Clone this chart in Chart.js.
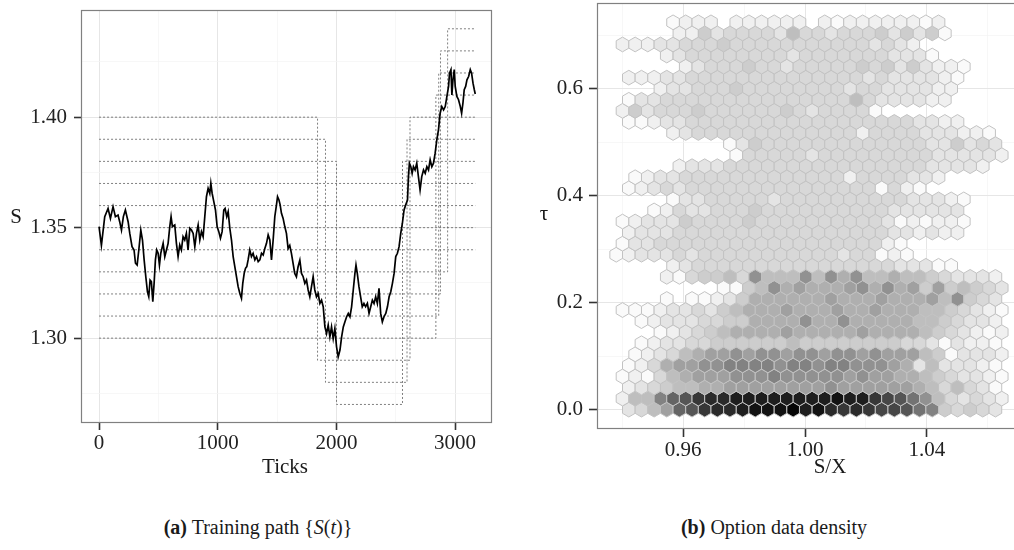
<!DOCTYPE html>
<html>
<head>
<meta charset="utf-8">
<script src="https://cdn.jsdelivr.net/npm/chart.js@4.4.1/dist/chart.umd.min.js"></script>
<style>
  html, body { margin: 0; padding: 0; background: #fff; }
  body { width: 1014px; height: 550px; overflow: hidden; position: relative;
         font-family: "Liberation Serif", "Times New Roman", serif; color: #1a1a1a; }
  canvas { position: absolute; top: 0; }
  #pathChart { left: 0; }
  #hexChart { left: 520px; }
  .lab { position: absolute; font-size: 21px; white-space: nowrap; transform: translate(-50%, -50%); }
  .cap { position: absolute; font-size: 20px; white-space: nowrap; transform: translate(-50%, -50%); }
</style>
</head>
<body>
<canvas id="pathChart" width="510" height="500"></canvas>
<canvas id="hexChart" width="520" height="500"></canvas>
<div class="lab" style="left:16px;top:216px">S</div>
<div class="lab" style="left:285px;top:466px">Ticks</div>
<div class="lab" style="left:544px;top:213px">τ</div>
<div class="lab" style="left:830px;top:466px">S/X</div>
<div class="cap" style="left:258px;top:527px"><b>(a)</b> Training path {<i>S</i>(<i>t</i>)}</div>
<div class="cap" style="left:774px;top:527px"><b>(b)</b> Option data density</div>
<script>
// ── panel (a): price path ──
const pathTicks = [
  0, 20, 48, 76, 96, 118, 138, 160, 174, 189, 205, 222, 245, 259, 278, 295, 307, 321, 335, 352,
  366, 380, 394, 408, 419, 430, 441, 453, 464, 475, 486, 498, 509, 520, 540, 554, 568, 582, 596, 607,
  618, 638, 652, 666, 680, 694, 708, 722, 736, 750, 765, 779, 793, 807, 821, 835, 849, 863, 877, 891,
  905, 919, 933, 942, 953, 967, 981, 995, 1009, 1023, 1037, 1051, 1062, 1076, 1088, 1102, 1116, 1130, 1144, 1158,
  1172, 1186, 1200, 1211, 1223, 1234, 1245, 1256, 1270, 1284, 1298, 1313, 1327, 1341, 1355, 1369, 1383, 1397, 1411, 1425,
  1439, 1453, 1467, 1481, 1495, 1504, 1516, 1526, 1537, 1551, 1565, 1579, 1593, 1607, 1621, 1635, 1649, 1663, 1677, 1692,
  1706, 1720, 1734, 1748, 1762, 1776, 1790, 1804, 1818, 1832, 1846, 1861, 1875, 1889, 1903, 1917, 1931, 1945, 1959, 1973,
  1987, 2001, 2015, 2030, 2044, 2058, 2072, 2086, 2100, 2114, 2128, 2142, 2156, 2165, 2176, 2190, 2204, 2218, 2232, 2246,
  2261, 2275, 2289, 2303, 2317, 2331, 2345, 2359, 2373, 2387, 2401, 2416, 2430, 2444, 2458, 2472, 2486, 2500, 2514, 2528,
  2542, 2556, 2570, 2584, 2599, 2607, 2615, 2627, 2638, 2649, 2663, 2677, 2691, 2705, 2719, 2734, 2748, 2762, 2776, 2790,
  2804, 2818, 2832, 2846, 2860, 2874, 2888, 2903, 2917, 2931, 2945, 2953, 2965, 2973, 2982, 2993, 3001, 3015, 3029, 3044,
  3055, 3066, 3077, 3089, 3100, 3114, 3128, 3139, 3151, 3162, 3170
];
const pathPrice = [
  1.3505, 1.3420, 1.3550, 1.3587, 1.3542, 1.3595, 1.3550, 1.3557, 1.3527, 1.3489, 1.3550, 1.3580, 1.3527, 1.3474, 1.3414, 1.3399, 1.3339, 1.3331, 1.3399, 1.3489,
  1.3444, 1.3354, 1.3278, 1.3210, 1.3188, 1.3263, 1.3256, 1.3165, 1.3248, 1.3354, 1.3399, 1.3384, 1.3331, 1.3384, 1.3429, 1.3369, 1.3399, 1.3429, 1.3505, 1.3550,
  1.3505, 1.3512, 1.3429, 1.3369, 1.3422, 1.3399, 1.3459, 1.3444, 1.3474, 1.3399, 1.3497, 1.3489, 1.3474, 1.3414, 1.3474, 1.3512, 1.3444, 1.3482, 1.3459, 1.3550,
  1.3640, 1.3678, 1.3655, 1.3701, 1.3655, 1.3618, 1.3580, 1.3505, 1.3482, 1.3452, 1.3482, 1.3580, 1.3587, 1.3550, 1.3572, 1.3497, 1.3444, 1.3369, 1.3324, 1.3278,
  1.3233, 1.3203, 1.3180, 1.3248, 1.3293, 1.3316, 1.3324, 1.3354, 1.3399, 1.3369, 1.3384, 1.3354, 1.3369, 1.3346, 1.3354, 1.3384, 1.3376, 1.3406, 1.3429, 1.3467,
  1.3444, 1.3354, 1.3444, 1.3550, 1.3603, 1.3640, 1.3625, 1.3603, 1.3565, 1.3542, 1.3505, 1.3474, 1.3406, 1.3420, 1.3384, 1.3338, 1.3293, 1.3278, 1.3323, 1.3353,
  1.3293, 1.3278, 1.3248, 1.3263, 1.3218, 1.3187, 1.3233, 1.3278, 1.3218, 1.3187, 1.3202, 1.3157, 1.3172, 1.3142, 1.3051, 1.3021, 1.3059, 1.3006, 1.3051, 1.2998,
  1.3044, 1.2961, 1.2915, 1.2946, 1.3006, 1.3051, 1.3074, 1.3097, 1.3112, 1.3097, 1.3142, 1.3218, 1.3293, 1.3331, 1.3293, 1.3233, 1.3187, 1.3142, 1.3157, 1.3142,
  1.3157, 1.3112, 1.3142, 1.3172, 1.3157, 1.3187, 1.3157, 1.3225, 1.3112, 1.3074, 1.3097, 1.3112, 1.3142, 1.3187, 1.3210, 1.3248, 1.3293, 1.3369, 1.3384, 1.3414,
  1.3474, 1.3520, 1.3580, 1.3603, 1.3625, 1.3731, 1.3792, 1.3776, 1.3746, 1.3776, 1.3761, 1.3792, 1.3731, 1.3671, 1.3731, 1.3761, 1.3746, 1.3776, 1.3761, 1.3807,
  1.3776, 1.3792, 1.3837, 1.3897, 1.3943, 1.4018, 1.4048, 1.4033, 1.4048, 1.4094, 1.4139, 1.4199, 1.4215, 1.4101, 1.4169, 1.4215, 1.4139, 1.4094, 1.4079, 1.4048,
  1.4018, 1.4063, 1.4124, 1.4139, 1.4169, 1.4184, 1.4215, 1.4199, 1.4154, 1.4124, 1.4105
];

// strike ladder: each dashed line holds a level, jumping at the switch ticks
const strikeLevels = [
  [1.30, 1.41], [1.31, 1.42], [1.32, 1.43], [1.33, 1.44],
  [1.34], [1.35], [1.36], [1.37],
  [1.38, 1.27, 1.38], [1.39, 1.28, 1.39], [1.40, 1.29, 1.40]
];
const strikeSwitch = [
  [2838], [2862], [2877], [2937],
  [], [], [], [],
  [2001, 2557], [1908, 2595], [1841, 2620]
];
const strikeEnd = 3170;

const pathXTicks = [0, 500, 1000, 1500, 2000, 2500, 3000];
const pathXLabels = [0, 1000, 2000, 3000];
const pathYTicks = [1.275, 1.30, 1.325, 1.35, 1.375, 1.40, 1.425];
const pathYLabels = [1.30, 1.35, 1.40];

// ── panel (b): hexbin counts, one string per row from the bottom (row 0 at tau = 0) ──
// [first column index, shade codes]; '.' = empty cell, spaces only for readability
const hexX0 = 0.938, hexDX = 0.00415, hexDY = 0.02069;
const hexRows = [
  [1, '2357b ceffg hhhig hfefe ddca9 43432'],
  [0, '1559b ceffg ggggg gghgg edca8 53232 1'],
  [1, '12345 56677 77777 78777 77765 35320'],
  [0, '01035 67778 88988 88878 77665 43221 0'],
  [1, '01367 78899 99899 89988 87625 22210'],
  [1, '01235 67787 88788 78878 77754 02221'],
  [2, '01223 34444 44544 44444 43320 2110'],
  [3, '01234 56666 76666 67666 65432 101'],
  [2, '01222 33446 66686 68666 66554 3221'],
  [0, '00012 23245 66676 66766 76665 543210'],
  [4, '0.001 24666 66676 66766 67584 32'],
  [8, '00458 67666 78686 74745 432'],
  [4, '10344 53855 58586 85565 54322 21'],
  [4, '12 33333 33333 33333 3 22200'],
  [0, '01222 32333 33333 33323 3010'],
  [0, '0223 33333 33333 33333 33 10'],
  [1, '1222 33333 33333 33333 33 221211'],
  [0, '01222 43333 43333 33333 32010 110'],
  [3, '01322 33343 33333 33332 22222'],
  [4, '022 33333 2 33333 33333 22210'],
  [1, '01232 33333 33333 33333 0310'],
  [1, '0122 33333 33333 333 1 3333 221'],
  [5, '1222 33333 33333 33333 3 22221'],
  [9, '03333 32333 33333 32222 21'],
  [9, '02433 33333 33333 32242 32'],
  [4, '12 33333 33333 333 1 3333 222 11 0'],
  [1, '00122 33333 33333 33333 333 2211'],
  [0, '14233 34333 33343 23333 0'],
  [1, '02233 33333 33333 33353 22221 1'],
  [3, '12233 34333 33333 23322 2211'],
  [1, '11122 33333 33333 3333 23222 21 0'],
  [5, '12333 43323 33334 34242 110'],
  [4, '12333 33333 23333 33322 20'],
  [0, '11122 33343 33333 33333 2321'],
  [5, '11423 33325 33233 34242 40'],
  [4, '0111. 11111 1.101 11111 01']
];
const shadeKeys = '0123456789abcdefghi';
const shadeGray = [250, 240, 228, 216, 205, 190, 175, 160, 145, 130, 115, 100, 85, 70, 55, 42, 30, 18, 5];

const hexXTicks = [0.94, 0.96, 0.98, 1.00, 1.02, 1.04, 1.06];
const hexXLabels = [0.96, 1.00, 1.04];
const hexYTicks = [0.0, 0.1, 0.2, 0.3, 0.4, 0.5, 0.6, 0.7];
const hexYLabels = [0.0, 0.2, 0.4, 0.6];

// ── shared bits ──
const FONT = { family: '"Liberation Serif", "Times New Roman", serif', size: 21 };
const near = (a, b) => Math.abs(a - b) < 1e-9;
const isIn = (list, v) => list.some(m => near(m, v));

function axis(opts) {
  const { min, max, ticks, labels, fmt, size, isX, pad, tickLen } = opts;
  return {
    type: 'linear', min, max,
    afterBuildTicks: s => { s.ticks = ticks.map(v => ({ value: v })); },
    afterFit: s => {
      if (isX) s.height = size; else s.width = size;
      // keep the plot panel exactly where the axis sizes put it
      s.paddingTop = s.paddingBottom = s.paddingLeft = s.paddingRight = 0;
    },
    border: { display: false },
    grid: {
      color: c => (c.tick && isIn(labels, c.tick.value)) ? '#e6e6e6' : '#f4f4f4',
      lineWidth: c => (c.tick && isIn(labels, c.tick.value)) ? 1 : 0.7,
      tickColor: c => (c.tick && isIn(labels, c.tick.value)) ? '#333333' : 'rgba(0,0,0,0)',
      tickLength: tickLen, tickWidth: 1.6
    },
    ticks: {
      autoSkip: false, maxRotation: 0, padding: pad, font: FONT, color: '#222',
      callback: v => isIn(labels, v) ? fmt(v) : ''
    }
  };
}

const panelBorder = {
  id: 'panelBorder',
  afterDraw(chart) {
    const { ctx, chartArea: a } = chart;
    ctx.save();
    ctx.strokeStyle = '#808080';
    ctx.lineWidth = 1.2;
    ctx.strokeRect(Math.round(a.left) + 0.5, Math.round(a.top) + 0.5,
                   Math.round(a.right - a.left) - 1, Math.round(a.bottom - a.top) - 1);
    ctx.restore();
  }
};

// ── panel (a) ──
const strikeSets = strikeLevels.map((lv, i) => {
  const pts = [{ x: 0, y: lv[0] }];
  strikeSwitch[i].forEach((t, j) => pts.push({ x: t, y: lv[j + 1] }));
  pts.push({ x: strikeEnd, y: lv[lv.length - 1] });
  return {
    data: pts, stepped: 'before', borderColor: '#5f5f5f', borderWidth: 0.8,
    borderDash: [2, 2], pointRadius: 0, fill: false, order: 2
  };
});

new Chart(document.getElementById('pathChart'), {
  type: 'line',
  data: {
    datasets: [
      {
        data: pathTicks.map((t, i) => ({ x: t, y: pathPrice[i] })),
        borderColor: '#000', borderWidth: 1.7, pointRadius: 0, tension: 0, fill: false, order: 1
      },
      ...strikeSets
    ]
  },
  options: {
    responsive: false, animation: false, devicePixelRatio: 1,
    layout: { padding: { left: 0, top: 10, right: 18, bottom: 37 } },
    plugins: { legend: { display: false }, tooltip: { enabled: false } },
    scales: {
      x: axis({ min: -152, max: 3311, ticks: pathXTicks, labels: pathXLabels, fmt: v => String(v),
                size: 40, isX: true, pad: 1, tickLen: 7 }),
      y: axis({ min: 1.2616, max: 1.4485, ticks: pathYTicks, labels: pathYLabels, fmt: v => v.toFixed(2),
                size: 81, isX: false, pad: 7, tickLen: 7 })
    }
  },
  plugins: [panelBorder]
});

// ── panel (b) ──
const hexPoints = [];
hexRows.forEach(([start, raw], r) => {
  const s = raw.replace(/ /g, '');
  for (let i = 0; i < s.length; i++) {
    if (s[i] === '.') continue;
    const k = start + i;
    hexPoints.push({
      x: hexX0 + hexDX * k + (r % 2 ? hexDX / 2 : 0),
      y: r * hexDY,
      shade: shadeKeys.indexOf(s[i])
    });
  }
});

const hexPlugin = {
  id: 'hexCells',
  beforeDatasetsDraw(chart) {
    const { ctx, chartArea: a, scales: { x, y } } = chart;
    const hx = hexDX / 2, hy = hexDY * 2 / 3;
    const verts = [[0, hy], [hx, hy / 2], [hx, -hy / 2], [0, -hy], [-hx, -hy / 2], [-hx, hy / 2]];
    ctx.save();
    ctx.beginPath();
    ctx.rect(a.left, a.top, a.right - a.left, a.bottom - a.top);
    ctx.clip();
    chart.data.datasets[0].data.forEach(p => {
      ctx.beginPath();
      verts.forEach(([dx, dy], i) => {
        const px = x.getPixelForValue(p.x + dx), py = y.getPixelForValue(p.y + dy);
        if (i) ctx.lineTo(px, py); else ctx.moveTo(px, py);
      });
      ctx.closePath();
      const g = shadeGray[p.shade];
      ctx.fillStyle = `rgb(${g},${g},${g})`;
      ctx.fill();
      ctx.strokeStyle = '#c2c2c2';
      ctx.lineWidth = 1;
      ctx.stroke();
    });
    ctx.restore();
  }
};

new Chart(document.getElementById('hexChart'), {
  type: 'scatter',
  data: { datasets: [{ data: hexPoints, pointRadius: 0, showLine: false }] },
  options: {
    responsive: false, animation: false, devicePixelRatio: 1,
    layout: { padding: { left: 0, top: 3, right: 19, bottom: 31 } },
    plugins: { legend: { display: false }, tooltip: { enabled: false } },
    scales: {
      x: axis({ min: 0.9317, max: 1.0709, ticks: hexXTicks, labels: hexXLabels, fmt: v => v.toFixed(2),
                size: 40, isX: true, pad: 1, tickLen: 8 }),
      y: axis({ min: -0.0362, max: 0.7603, ticks: hexYTicks, labels: hexYLabels, fmt: v => v.toFixed(1),
                size: 77, isX: false, pad: 6, tickLen: 8 })
    }
  },
  plugins: [hexPlugin, panelBorder]
});
</script>
</body>
</html>
